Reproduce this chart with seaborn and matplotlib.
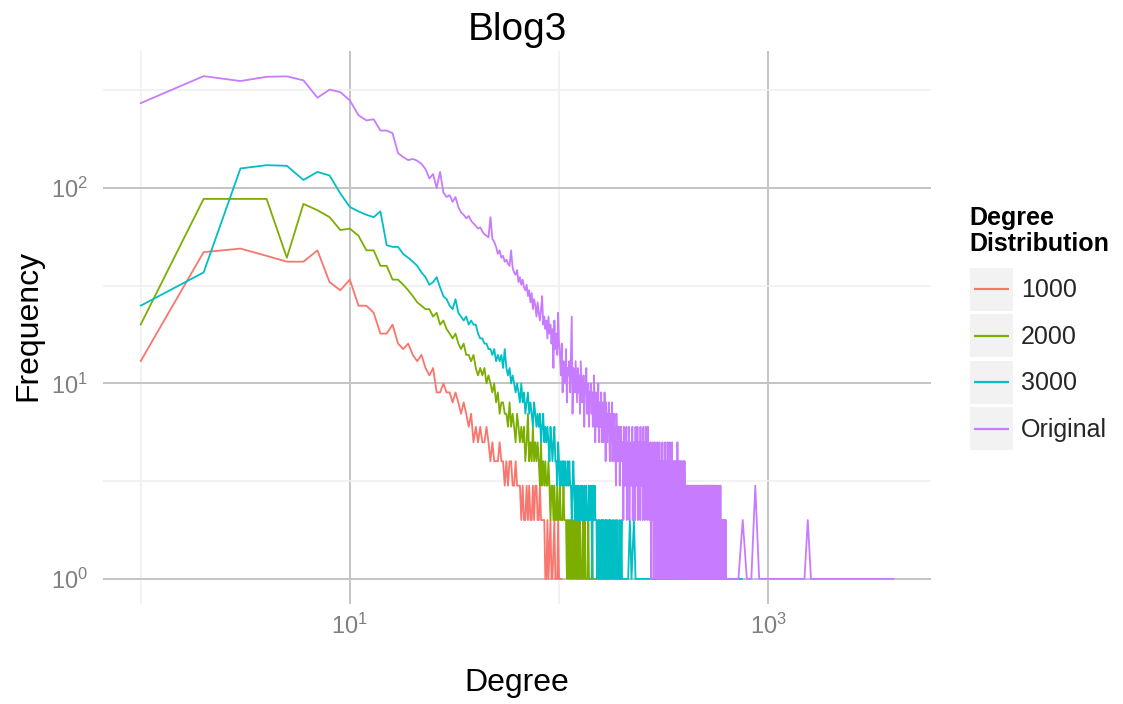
import numpy as np
import pandas as pd
import matplotlib
matplotlib.use("Agg")
import matplotlib.pyplot as plt
import seaborn as sns
from matplotlib.lines import Line2D
from matplotlib.patches import Rectangle
from matplotlib.legend_handler import HandlerLine2D
from matplotlib.ticker import FixedLocator, FixedFormatter, NullFormatter

# ---------------------------------------------------------------------------
# Degree distributions of the Blog3 graph and of three samples.
# *_head : node counts for degree 1, 2, 3, ... (one value per degree)
# *_tail : low counts continuing right after the head, one digit per degree
#          (0 = no node with that degree)
# *_sparse_deg / *_sparse_cnt : isolated high degrees
# ---------------------------------------------------------------------------
series_names = ["1000", "2000", "3000", "Original"]
series_colors = ["#F8766D", "#7CAE00", "#00BFC4", "#C77CFF"]

s1000_head = [13, 47, 49, 45, 42, 42, 48, 33, 30, 34,
              25, 25, 23, 18, 18, 20, 16, 15, 16, 14,
              13, 14, 12, 11, 12, 9, 9, 10, 9, 9,
              8, 9, 8, 7, 8, 7, 6, 7, 5, 6,
              5, 6, 5, 5, 6, 5, 4, 5, 4, 4,
              4, 5, 4, 4]
s1000_tail = ("3434433433"
              "32322323223233223222"
              "2112102110210121011")
s1000_sparse_deg = []
s1000_sparse_cnt = []

s2000_head = [20, 88, 88, 88, 44, 83, 77, 71, 61, 62,
              57, 48, 48, 40, 40, 34, 34, 32, 30, 28,
              26, 25, 24, 24, 22, 23, 20, 21, 19, 18,
              17, 18, 16, 15, 16, 14, 14, 13, 14, 12,
              11, 12, 11, 12, 10, 11, 10, 9, 10, 8,
              9, 7, 8, 8, 7, 7, 6, 8, 6, 7,
              6, 5, 7, 6, 5, 6, 5, 6, 4, 5,
              7, 4, 5, 4, 6, 4, 5, 4, 5]
s2000_tail = ("4353434334323"
              "323223223222322212212"
              "12112121121121012112101121110121101111")
s2000_sparse_deg = []
s2000_sparse_cnt = []

s3000_head = [25, 37, 126, 131, 130, 110, 121, 116, 94, 80,
              76, 73, 71, 76, 51, 50, 50, 46, 44, 42,
              40, 37, 35, 32, 33, 35, 31, 28, 27, 25,
              24, 27, 23, 22, 21, 22, 20, 21, 20, 20,
              18, 17, 17, 16, 16, 15, 15, 14, 15, 13,
              14, 13, 14, 12, 15, 12, 11, 12, 10, 11,
              10, 9, 10, 9, 8, 10, 8, 9, 7, 8,
              9, 7, 8, 7, 6, 8, 7, 6, 7, 6,
              7, 5, 6, 7, 5, 6, 5, 6, 5, 4,
              6, 5, 4, 5, 6, 4]
s3000_tail = ("435434344343343433234323"
              "23232232322322322232232132232221"
              "12121121212112121121121211021121012112110121102111")
s3000_sparse_deg = [208, 214, 218, 222, 228, 232, 245, 262, 285, 320,
                    365, 420, 490, 580, 670, 750]
s3000_sparse_cnt = [1, 1, 2, 1, 2, 1, 1, 1, 1, 1,
                    1, 1, 1, 1, 1, 1]

orig_head = [272, 374, 353, 371, 373, 356, 290, 319, 310, 281,
             236, 222, 225, 197, 197, 191, 151, 144, 139, 141,
             138, 133, 125, 112, 118, 100, 121, 95, 90, 92,
             85, 90, 80, 75, 73, 70, 72, 68, 66, 64,
             62, 63, 60, 58, 57, 56, 71, 55, 53, 50,
             46, 48, 44, 45, 42, 43, 41, 40, 48, 39,
             37, 36, 38, 33, 35, 32, 34, 31, 30, 32,
             28, 30, 26, 29, 24, 27, 25, 22, 26, 23,
             21, 24, 28, 20, 22, 19, 21, 17, 22, 18,
             20, 16, 19, 12, 21, 15, 18, 14, 23, 16,
             14, 11, 16, 9, 13, 12, 10, 15, 8, 12,
             11, 13, 9, 14, 22, 7, 12, 11, 9, 13,
             10, 8, 12, 9, 11, 7, 13, 10, 8, 9,
             11, 6, 10, 9, 12, 7, 8, 10, 6, 9,
             8, 10, 7, 9, 6, 8, 11, 7, 5, 9,
             8, 6, 7, 10, 5, 8, 7, 6, 9, 5,
             7, 8, 5, 6, 9, 7, 4, 8, 6, 5,
             7, 6, 8, 5, 4, 7, 6, 5, 8, 4,
             6, 5, 7, 4, 6, 5, 3, 7, 5, 4,
             6, 5, 4, 6, 3, 5, 4, 6, 4, 5]
orig_tail = ("4526354356243546253445362534452635436245354263543524635425364352463542"
             "3425132435241324534213425312432513423142352413243152342134253142341523"
             "142342513241324312423413241532142314232413241323142314231423"
             "2132212321231221322132121232213212231221312212321223121321221232122132"
             "1223122122312132212321231221321223212123122312213221231212321221312212"
             "3212213212123122132021231221021230121202132120121231021202121201210212"
             "1201202101201210201")
orig_sparse_deg = [655, 690, 720, 755, 790, 830, 867, 905, 960, 1040,
                   1150, 1280, 1400, 1490, 1545, 1600, 1780, 2150, 2650, 3250, 3963]
orig_sparse_cnt = [1, 1, 1, 2, 1, 1, 3, 1, 1, 1,
                   1, 1, 1, 1, 2, 1, 1, 1, 1, 1, 1]


def series_frame(name, head, tail, sparse_deg, sparse_cnt):
    counts = np.array(list(head) + [int(ch) for ch in tail])
    degree = np.arange(1, counts.size + 1)
    keep = counts > 0
    deg = np.concatenate([degree[keep], np.asarray(sparse_deg, dtype=int)])
    cnt = np.concatenate([counts[keep], np.asarray(sparse_cnt, dtype=int)])
    return pd.DataFrame({"Degree": deg, "Frequency": cnt,
                         "Degree Distribution": name})


df = pd.concat([
    series_frame("1000", s1000_head, s1000_tail, s1000_sparse_deg, s1000_sparse_cnt),
    series_frame("2000", s2000_head, s2000_tail, s2000_sparse_deg, s2000_sparse_cnt),
    series_frame("3000", s3000_head, s3000_tail, s3000_sparse_deg, s3000_sparse_cnt),
    series_frame("Original", orig_head, orig_tail, orig_sparse_deg, orig_sparse_cnt),
], ignore_index=True)

# ---------------------------------------------------------------------------
sns.set_style("white")
plt.rcParams["font.family"] = ["Liberation Sans", "DejaVu Sans"]
plt.rcParams["mathtext.fontset"] = "custom"
plt.rcParams["mathtext.rm"] = "Liberation Sans"
plt.rcParams["mathtext.it"] = "Liberation Sans:italic"
plt.rcParams["mathtext.bf"] = "Liberation Sans:bold"

W, H = 1123, 704
fig = plt.figure(figsize=(W / 100, H / 100), dpi=100)
fig.patch.set_facecolor("white")
px_l, px_r, px_t, px_b = 103, 931, 51, 604
ax = fig.add_axes([px_l / W, 1 - px_b / H, (px_r - px_l) / W, (px_b - px_t) / H])

sns.lineplot(data=df, x="Degree", y="Frequency", hue="Degree Distribution",
             hue_order=series_names, palette=series_colors, estimator=None,
             linewidth=1.3, ax=ax)

ax.set_xscale("log")
ax.set_yscale("log")

# ggplot-style 5 % expansion in log space
lx = np.log10(df["Degree"].to_numpy())
ly = np.log10(df["Frequency"].to_numpy())
ex = 0.05 * (lx.max() - lx.min())
ey = 0.05 * (ly.max() - ly.min())
ax.set_xlim(10 ** (lx.min() - ex), 10 ** (lx.max() + ex))
ax.set_ylim(10 ** (ly.min() - ey), 10 ** (ly.max() + ey))

x_major = [10, 1000]
x_minor = [1, 100]
y_major = [1, 10, 100]
y_minor = [10 ** 0.5, 10 ** 1.5, 10 ** 2.5]
ax.xaxis.set_major_locator(FixedLocator(x_major))
ax.xaxis.set_major_formatter(FixedFormatter([r"$\mathregular{10^{1}}$", r"$\mathregular{10^{3}}$"]))
ax.xaxis.set_minor_locator(FixedLocator(x_minor))
ax.xaxis.set_minor_formatter(NullFormatter())
ax.yaxis.set_major_locator(FixedLocator(y_major))
ax.yaxis.set_major_formatter(FixedFormatter([r"$\mathregular{10^{0}}$", r"$\mathregular{10^{1}}$",
                                             r"$\mathregular{10^{2}}$"]))
ax.yaxis.set_minor_locator(FixedLocator(y_minor))
ax.yaxis.set_minor_formatter(NullFormatter())

ax.grid(True, which="major", color="#C4C4C4", linewidth=1.4)
ax.grid(True, which="minor", color="#EFEFEF", linewidth=1.1)
ax.set_axisbelow(True)
for sp in ax.spines.values():
    sp.set_visible(False)

ax.tick_params(which="major", length=5, width=1.0, color="#555555",
               labelsize=17, labelcolor="#7F7F7F")
ax.tick_params(axis="y", which="major", pad=6)
ax.tick_params(axis="x", which="major", pad=2)
ax.tick_params(which="minor", length=0)

ax.set_xlabel("Degree", fontsize=23, color="black")
ax.set_ylabel("Frequency", fontsize=23, color="black")
ax.xaxis.set_label_coords(0.5, (px_b - 683) / (px_b - px_t))
ax.xaxis.label.set_va("center")
ax.yaxis.set_label_coords((28 - px_l) / (px_r - px_l), (px_b - 325) / (px_b - px_t))
ax.yaxis.label.set_va("center")

fig.text((px_l + px_r) / 2 / W, 1 - 30 / H, "Blog3", fontsize=28,
         ha="center", va="center", color="black")


# legend keys drawn on a light grey square with a short centred line, as in ggplot
class KeyHandler(HandlerLine2D):
    def create_artists(self, legend, orig_handle, xdescent, ydescent,
                       width, height, fontsize, trans):
        box = Rectangle((-xdescent, -ydescent), width, height,
                        facecolor="#F2F2F2", edgecolor="white",
                        linewidth=1.5, transform=trans)
        arts = super().create_artists(legend, orig_handle, xdescent, ydescent,
                                      width, height, fontsize, trans)
        yc = height / 2 - ydescent
        x0 = -xdescent + 0.11 * width
        x1 = -xdescent + 0.89 * width
        for a in arts:
            a.set_linewidth(1.6)
            a.set_solid_capstyle("butt")
            a.set_data([x0, x1], [yc, yc])
        return [box] + list(arts)


handles, labels = ax.get_legend_handles_labels()
ax.get_legend().remove()

legend_left = 969
fig.text(legend_left / W, 1 - 206 / H, "Degree\nDistribution", fontsize=18,
         fontweight="bold", ha="left", va="top", linespacing=1.1, color="black")
leg = fig.legend(handles, labels,
                 loc="upper left", bbox_to_anchor=(legend_left / W, 1 - 267 / H),
                 bbox_transform=fig.transFigure, frameon=False,
                 fontsize=18,
                 handlelength=1.8, handleheight=2.39, handletextpad=0.28,
                 labelspacing=0.06, borderpad=0, borderaxespad=0,
                 handler_map={Line2D: KeyHandler()})

fig.savefig("out.png", dpi=100, facecolor="white")
